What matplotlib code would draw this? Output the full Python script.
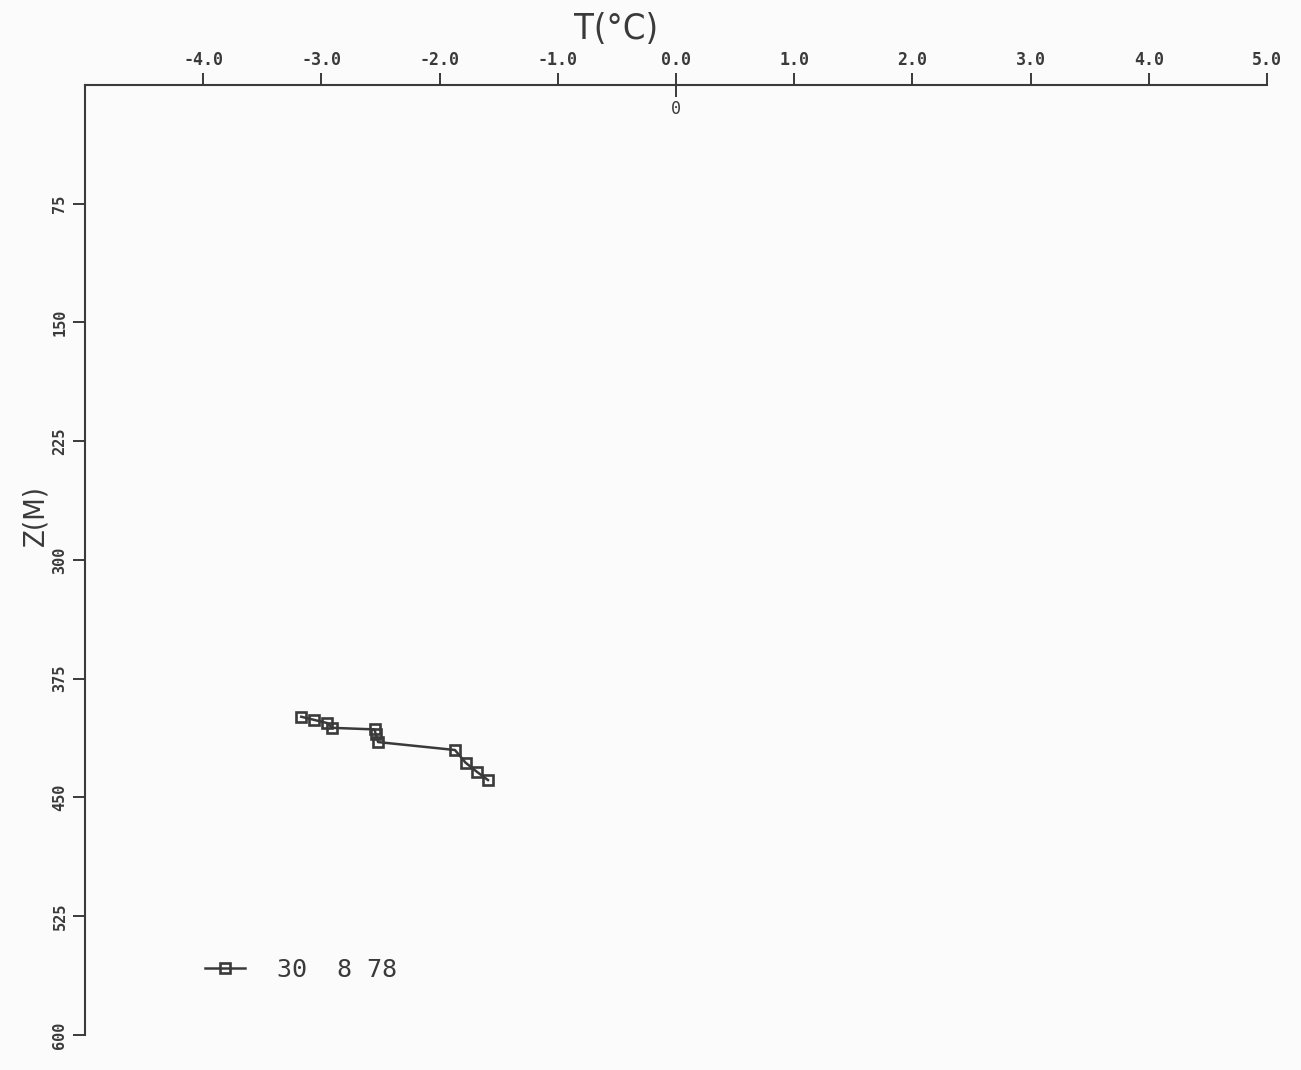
import numpy as np
import matplotlib
matplotlib.use('Agg')
import matplotlib.pyplot as plt

# temperature profile (T in deg C, Z in m)
temp = [-3.17, -3.06, -2.95, -2.91, -2.55, -2.54, -2.52, -1.87, -1.78, -1.68, -1.59]
depth = [399, 401, 403, 406, 407, 410, 415, 420, 428, 434, 439]
series_label = '30  8 78'

x_ticks = [-4.0, -3.0, -2.0, -1.0, 0.0, 1.0, 2.0, 3.0, 4.0, 5.0]
y_ticks = [75, 150, 225, 300, 375, 450, 525, 600]

ink = '#3a3a3a'
mono = 'DejaVu Sans Mono'

fig = plt.figure(figsize=(13.01, 10.70), dpi=100)
fig.patch.set_facecolor('#fbfbfb')
ax = fig.add_axes([0.0653, 0.0327, 0.9085, 0.8879])
ax.set_facecolor('#fbfbfb')

ax.plot(temp, depth, '-', color=ink, lw=1.8, marker='s', ms=7,
        mfc='none', mec=ink, mew=1.9, label=series_label)

ax.set_xlim(-5, 5)
ax.set_ylim(600, 0)

# axis only on top and left, like the old plotter output
ax.xaxis.tick_top()
ax.spines['right'].set_visible(False)
ax.spines['bottom'].set_visible(False)
for s in ('top', 'left'):
    ax.spines[s].set_color(ink)
    ax.spines[s].set_linewidth(1.5)

ax.set_xticks(x_ticks)
ax.set_xticklabels(['%.1f' % v for v in x_ticks], fontfamily=mono,
                   fontsize=12, color=ink, fontweight='bold')
# the zero tick also pokes down through the axis
ax.xaxis.remove_overlapping_locs = False
ax.set_xticks([0.0], minor=True)
ax.tick_params(axis='x', which='major', direction='out', length=8.6,
               width=1.4, color=ink, pad=3)
ax.tick_params(axis='x', which='minor', direction='in', length=8.6,
               width=1.4, color=ink, top=True, bottom=False)

ax.set_yticks(y_ticks)
ax.set_yticklabels([str(v) for v in y_ticks], rotation=90, va='center',
                   fontfamily=mono, fontsize=11, color=ink, fontweight='bold')
ax.tick_params(axis='y', direction='out', length=8.6, width=1.4,
               color=ink, pad=4)

ax.annotate('0', xy=(0, 0), xycoords='data', xytext=(0, -17),
            textcoords='offset points', ha='center', va='center',
            fontfamily=mono, fontsize=12, color=ink)

fig.text(0.4735, 0.973, 'T(°C)', ha='center', va='center', fontsize=26,
         color=ink, fontfamily='DejaVu Sans', fontstretch='condensed')
fig.text(0.027, 0.518, 'Z(M)', ha='center', va='center', rotation=90,
         fontsize=21, color=ink, fontfamily='DejaVu Sans',
         fontstretch='condensed')

ax.legend(loc='center left', bbox_to_anchor=(0.1015, 0.0684), frameon=False,
          handlelength=1.6, handletextpad=1.3, borderpad=0, borderaxespad=0,
          labelcolor=ink, prop={'family': mono, 'size': 18})

fig.savefig('out.png', dpi=100, facecolor=fig.get_facecolor())
